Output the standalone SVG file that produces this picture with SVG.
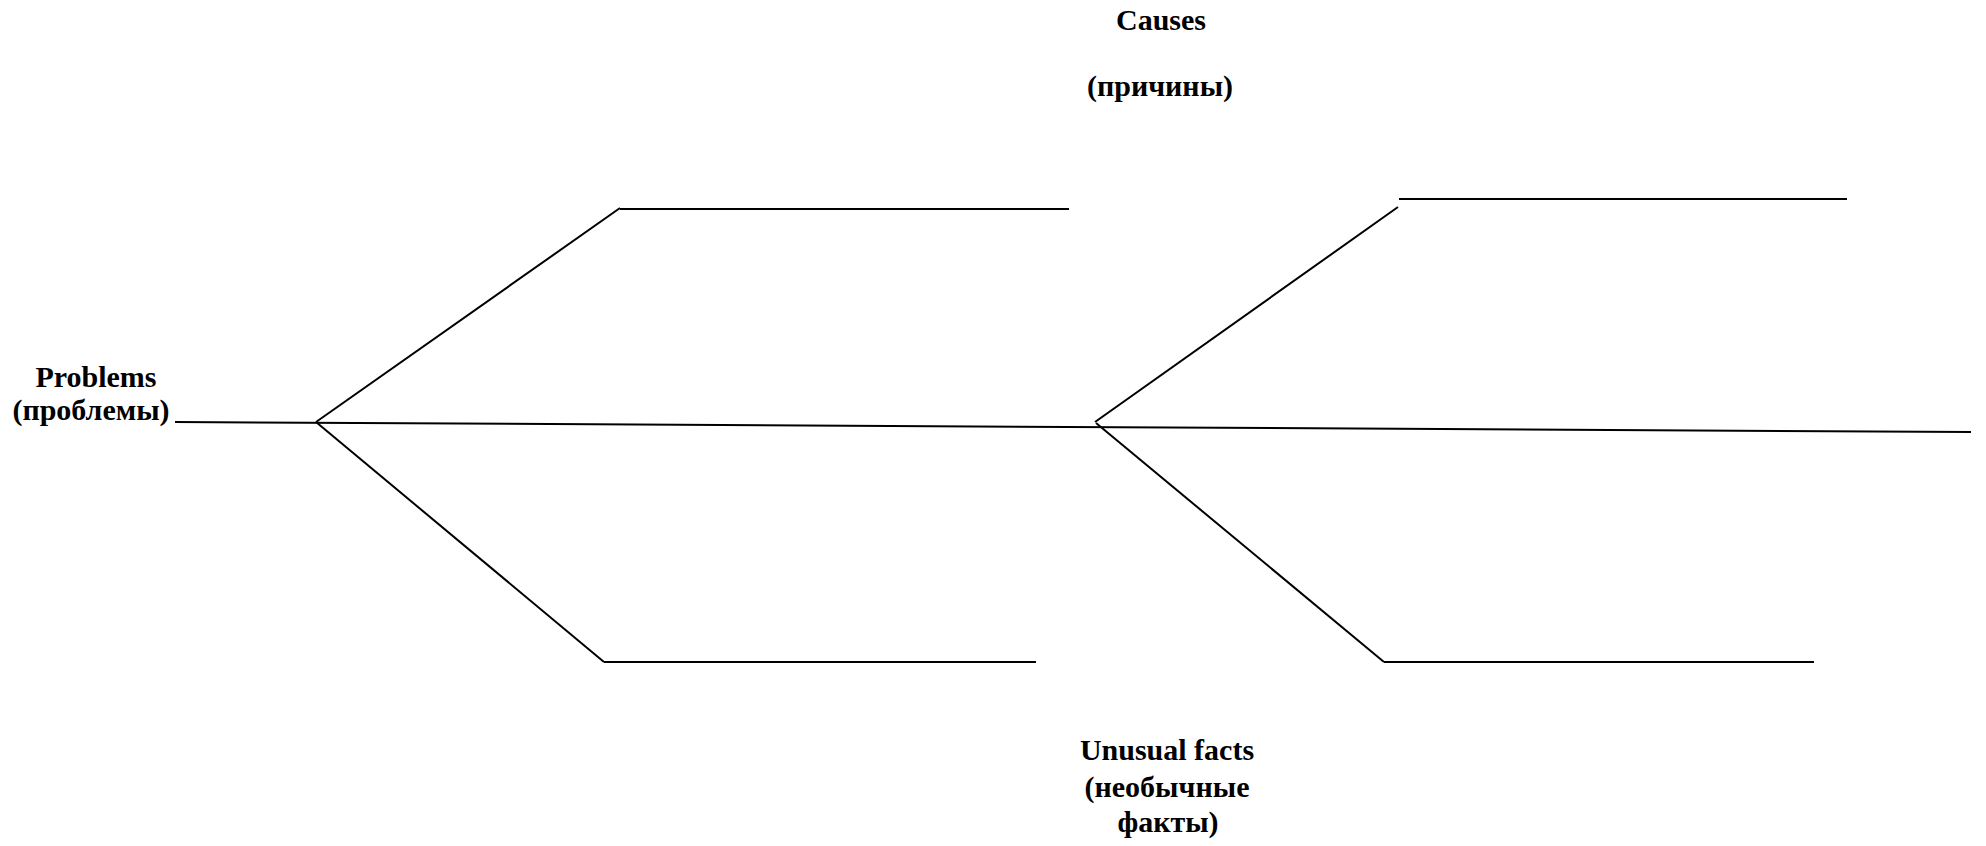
<svg xmlns="http://www.w3.org/2000/svg" width="1986" height="846" viewBox="0 0 1986 846">
<style>
.t{font-family:"Liberation Serif","Times New Roman",serif;font-weight:bold;font-size:30px;fill:#000;text-anchor:middle}
.c line{stroke:#000;stroke-width:2;stroke-linecap:butt}
</style>
<rect width="1986" height="846" fill="#fff"/>
<g id="causes"><text class="t" x="1161" y="30">Causes</text><text class="t" x="1160" y="96">(причины)</text></g>
<g id="problems"><text class="t" x="96" y="387">Problems</text><text class="t" x="91" y="420">(проблемы)</text></g>
<g id="unusual"><text class="t" x="1167" y="760">Unusual facts</text><text class="t" x="1167" y="797">(необычные</text><text class="t" x="1168" y="832">факты)</text></g>
<g id="connectors" class="c">
<line x1="175" y1="422" x2="1971" y2="432"/>
<line x1="316" y1="422" x2="620" y2="208"/>
<line x1="620" y1="209" x2="1069" y2="209"/>
<line x1="316" y1="422" x2="604" y2="662"/>
<line x1="604" y1="662" x2="1036" y2="662"/>
<line x1="1095" y1="422" x2="1398" y2="207"/>
<line x1="1399" y1="199" x2="1847" y2="199"/>
<line x1="1096" y1="423" x2="1384" y2="662"/>
<line x1="1384" y1="662" x2="1814" y2="662"/>
</g>
</svg>
